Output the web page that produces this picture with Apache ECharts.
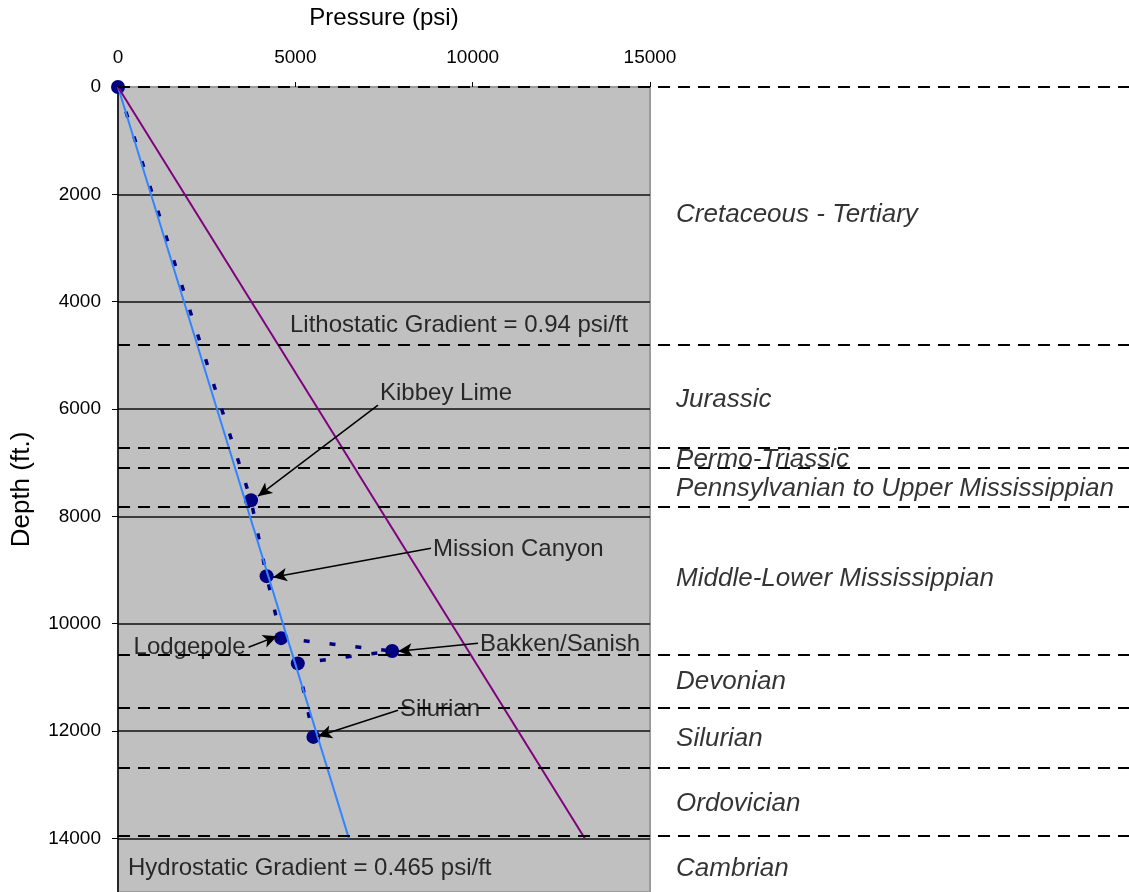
<!DOCTYPE html>
<html>
<head>
<meta charset="utf-8">
<script src="https://cdn.jsdelivr.net/npm/echarts@6/dist/echarts.min.js"></script>
<style>
html,body{margin:0;padding:0;background:#fff;}
#chart{width:1129px;height:892px;}
</style>
</head>
<body>
<div id="chart"></div>
<script>
// ---- data ----
const measuredPressure = [0, 3750, 4190, 4600, 7730, 5070, 5510];
const measuredDepth    = [0, 7700, 9115, 10270, 10510, 10740, 12110];

const hydroPressure = [0, 6510];
const hydroDepth    = [0, 14000];
const lithoPressure = [0, 13160];
const lithoDepth    = [0, 14000];

const boundaryDepths = [0, 4800, 6730, 7100, 7830, 10570, 11560, 12680, 13960];

const geoNames  = ['Cretaceous - Tertiary', 'Jurassic', 'Permo-Triassic',
  'Pennsylvanian to Upper Mississippian', 'Middle-Lower Mississippian',
  'Devonian', 'Silurian', 'Ordovician', 'Cambrian'];
const geoDepths = [2390, 5820, 6950, 7480, 9170, 11090, 12150, 13350, 14560];

const noteNames    = ['Lithostatic Gradient = 0.94 psi/ft', 'Hydrostatic Gradient = 0.465 psi/ft',
  'Kibbey Lime', 'Mission Canyon', 'Bakken/Sanish', 'Silurian'];
const notePressure = [4850, 282, 7387, 8881, 10207, 7951];
const noteDepth    = [4436, 14558, 5704, 8612, 10383, 11594];

const leftNoteNames    = ['Lodgepole'];
const leftNotePressure = [3600];
const leftNoteDepth    = [10438];

const arrowFromPressure = [7331, 8825, 3680, 10150, 7895];
const arrowFromDepth    = [5928, 8593, 10440, 10364, 11613];
const arrowToPressure   = [3947, 4370, 4483, 7895, 5639];
const arrowToDepth      = [7624, 9134, 10233, 10513, 12097];

const xTitle = 'Pressure (psi)';
const yTitle = 'Depth (ft.)';

// ---- layout ----
const FONT = '"Liberation Sans", Arial, sans-serif';
const GEO_X = 0.552; // fraction across the wide overlay grid

const chart = echarts.init(document.getElementById('chart'), null, {renderer: 'canvas'});

const zip = (a, b) => a.map((v, i) => [v, b[i]]);

const option = {
  animation: false,
  backgroundColor: '#ffffff',
  grid: [
    {left: 118, right: 479, top: 87, bottom: 0, show: true,
     backgroundColor: '#c0c0c0', borderColor: '#9a9a9a', borderWidth: 2},
    {left: 118, right: 0, top: 87, bottom: 0}
  ],
  xAxis: [
    {gridIndex: 0, type: 'value', position: 'top', min: 0, max: 15000, interval: 5000,
     name: xTitle, nameLocation: 'middle', nameGap: 57,
     nameTextStyle: {fontFamily: FONT, fontSize: 24, color: '#000'},
     axisLine: {show: false},
     axisTick: {show: true, length: 5, lineStyle: {color: '#000', width: 1}},
     axisLabel: {fontFamily: FONT, fontSize: 19, color: '#000', margin: 20,
                 formatter: v => String(v)},
     splitLine: {show: false}},
    {gridIndex: 1, type: 'value', min: 0, max: 1, show: false}
  ],
  yAxis: [
    {gridIndex: 0, type: 'value', inverse: true, min: 0, max: 15000, interval: 2000,
     name: yTitle, nameLocation: 'middle', nameGap: 83, nameRotate: 90,
     nameTextStyle: {fontFamily: FONT, fontSize: 26, color: '#000'},
     axisLine: {show: true, lineStyle: {color: '#000', width: 1.5}},
     axisTick: {show: true, length: 6, lineStyle: {color: '#000', width: 1}},
     axisLabel: {fontFamily: FONT, fontSize: 19, color: '#000', margin: 17, showMaxLabel: false,
                 formatter: v => String(v)},
     splitLine: {show: true, showMinLine: false, showMaxLine: false,
                 lineStyle: {color: '#111', width: 1.5}}},
    {gridIndex: 1, type: 'value', inverse: true, min: 0, max: 15000, show: false}
  ],
  series: [
    {
      name: 'boundaries', type: 'line', xAxisIndex: 1, yAxisIndex: 1, data: [], silent: true,
      markLine: {
        silent: true, symbol: ['none', 'none'], label: {show: false},
        lineStyle: {color: '#000', width: 2, type: [12, 8]},
        data: boundaryDepths.map(d => ({yAxis: d}))
      }
    },
    {
      name: 'geo', type: 'scatter', xAxisIndex: 1, yAxisIndex: 1, symbolSize: 0, silent: true,
      data: geoNames.map((n, i) => ({value: [GEO_X, geoDepths[i]], name: n})),
      label: {show: true, position: 'right', distance: 0, formatter: p => p.name,
              fontFamily: FONT, fontSize: 26, fontStyle: 'italic', color: '#000000'}
    },
    {
      name: 'Measured', type: 'line', xAxisIndex: 0, yAxisIndex: 0,
      data: zip(measuredPressure, measuredDepth),
      symbol: 'circle', symbolSize: 14, showAllSymbol: true,
      itemStyle: {color: '#000080'},
      lineStyle: {color: '#000080', width: 3.5, type: [6, 20]},
      z: 3,
      markLine: {
        silent: true, symbol: ['none', 'arrow'], symbolSize: [10, 14], label: {show: false},
        lineStyle: {color: '#000', width: 1.5, type: 'solid'},
        data: arrowFromPressure.map((p, i) => [
          {coord: [p, arrowFromDepth[i]]},
          {coord: [arrowToPressure[i], arrowToDepth[i]]}
        ])
      }
    },
    {
      name: 'Hydrostatic', type: 'line', data: zip(hydroPressure, hydroDepth),
      symbol: 'none', lineStyle: {color: '#3385ff', width: 2}, z: 4
    },
    {
      name: 'Lithostatic', type: 'line', data: zip(lithoPressure, lithoDepth),
      symbol: 'none', lineStyle: {color: '#800080', width: 2}, z: 4
    },
    {
      name: 'notes', type: 'scatter', symbolSize: 0, silent: true,
      data: noteNames.map((n, i) => ({value: [notePressure[i], noteDepth[i]], name: n})),
      label: {show: true, position: 'right', distance: 0, formatter: p => p.name,
              fontFamily: FONT, fontSize: 24, color: '#000000'},
      z: 5
    },
    {
      name: 'leftNotes', type: 'scatter', symbolSize: 0, silent: true,
      data: leftNoteNames.map((n, i) => ({value: [leftNotePressure[i], leftNoteDepth[i]], name: n})),
      label: {show: true, position: 'left', distance: 0, formatter: p => p.name,
              fontFamily: FONT, fontSize: 24, color: '#000000'},
      z: 5
    }
  ]
};
chart.setOption(option);
</script>
</body>
</html>
